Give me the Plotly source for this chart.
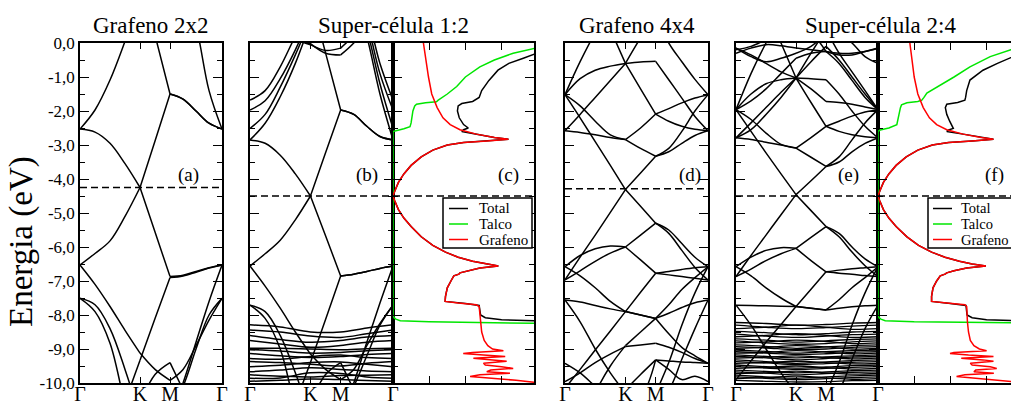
import plotly.graph_objects as go

W, H = 1011, 407

# k-path nodes: Gamma, 1/4, 1/2, 3/4, K, mid K-M, M, three points on M-Gamma, Gamma
K_PATH = [0.0, 0.25, 0.5, 0.75, 1.0, 1.25, 1.5, 1.717, 1.933, 2.15, 2.366]
K_TICKS = [0.0, 1.0, 1.5, 2.366]
K_LABELS = ["Γ", "K", "M", "Γ"]
# coarse grid for the nearly flat talc bands
K_TALC = [0.0, 0.5, 1.0, 1.5, 1.933, 2.366]

E_TICKS = [0, -1, -2, -3, -4, -5, -6, -7, -8, -9, -10]
E_LABELS = ["0,0", "-1,0", "-2,0", "-3,0", "-4,0", "-5,0", "-6,0", "-7,0", "-8,0", "-9,0", "-10,0"]

FERMI = {"a": -4.25, "b": -4.5, "d": -4.29, "e": -4.5}

# ---- (a) grafeno 2x2 ----
BANDS_A = [
    [-2.53, -1.97, -1.09, 0.05, 1.3, 1.6, 1.8, 1.6, 0.5, -1.4, -2.53],
    [-2.53, -2.62, -2.95, -3.55, -4.25, -5.56, -6.87, -6.83, -6.72, -6.61, -6.53],
    [-6.53, -6.19, -5.82, -5.1, -4.25, -2.88, -1.5, -1.65, -2.0, -2.36, -2.53],
    [2.5, 2.5, 2.5, 2.3, 1.96, 0.23, -1.5, -1.65, -2.0, -2.36, -2.53],
    [-6.53, -7.1, -7.75, -8.45, -9.12, -9.6, -9.92, -9.6, -8.9, -8.15, -7.51],
    [-13.0, -12.4, -11.8, -10.55, -9.33, -8.1, -6.9, -6.85, -6.74, -6.62, -6.53],
    [-7.51, -7.9, -8.83, -10.6, -12.0, -12.0, -12.0, -12.0, -12.0, -12.0, -12.0],
    [-7.51, -7.7, -8.4, -9.6, -11.0, -12.0, -12.0, -12.0, -12.0, -12.0, -12.0],
    [-12.0, -12.0, -12.0, -12.0, -12.0, -12.0, -11.0, -10.0, -8.8, -7.6, -6.53],
    [-12.0, -12.0, -12.0, -12.0, -12.0, -12.0, -10.8, -10.1, -9.0, -8.0, -7.51],
    [-12.0, -12.0, -12.0, -12.0, -10.6, -9.75, -9.4, -10.2, -11.0, -12.0, -12.0],
]

# ---- (b) super-celula 1:2 ----
BANDS_B = [
    [-2.85, -2.36, -1.58, -0.6, 0.6, 1.5, 2.0, 1.5, 0.2, -1.5, -2.85],
    [-2.85, -2.95, -3.3, -3.85, -4.5, -5.67, -6.85, -6.8, -6.72, -6.63, -6.56],
    [-6.56, -6.2, -5.8, -5.2, -4.5, -3.23, -1.97, -2.1, -2.45, -2.75, -2.85],
    [2.5, 2.5, 2.5, 2.2, 1.4, -0.29, -1.97, -2.1, -2.45, -2.75, -2.85],
    [-2.51, -2.1, -1.3, -0.35, 0.7, 1.5, 2.0, 1.5, 0.4, -1.2, -2.51],
    [-1.97, -1.7, -1.05, -0.2, 0.8, 1.5, 2.0, 1.5, 0.6, -0.9, -1.97],
    [-1.68, -1.4, -0.7, 0.2, 1.0, 1.5, 2.0, 1.5, 0.8, -0.6, -1.68],
    [0.5, 0.4, 0.3, 0.1, -0.05, -0.22, -0.15, 0.2, 0.5, 0.5, 0.5],
    [0.5, 0.4, 0.3, 0.1, -0.02, -0.3, -0.35, 0.0, 0.5, 0.5, 0.5],
    [-6.56, -7.15, -7.8, -8.5, -9.15, -9.6, -9.9, -9.6, -8.9, -8.25, -7.71],
    [-13.0, -12.4, -11.8, -10.6, -9.4, -8.13, -6.85, -6.8, -6.72, -6.63, -6.56],
    [-7.71, -8.1, -9.0, -10.7, -12.0, -12.0, -12.0, -12.0, -12.0, -12.0, -12.0],
    [-7.71, -7.9, -8.6, -9.7, -11.0, -12.0, -12.0, -12.0, -12.0, -12.0, -12.0],
    [-12.0, -12.0, -12.0, -12.0, -12.0, -12.0, -11.0, -10.0, -8.8, -7.65, -6.56],
    [-12.0, -12.0, -12.0, -12.0, -12.0, -12.0, -10.8, -10.1, -9.2, -8.3, -7.71],
    [-12.0, -12.0, -12.0, -12.0, -10.6, -9.75, -9.4, -10.2, -11.0, -12.0, -12.0],
]

TALC_B = [
    [-8.29, -8.35, -8.5, -8.5, -8.38, -8.29],
    [-8.44, -8.5, -8.62, -8.66, -8.55, -8.44],
    [-8.6, -8.72, -8.8, -8.75, -8.65, -8.6],
    [-8.75, -8.85, -8.95, -8.9, -8.8, -8.75],
    [-8.98, -8.98, -9.0, -9.02, -8.99, -8.98],
    [-9.02, -9.06, -9.12, -9.1, -9.05, -9.02],
    [-9.13, -9.2, -9.25, -9.22, -9.16, -9.13],
    [-9.28, -9.3, -9.22, -9.18, -9.25, -9.28],
    [-9.37, -9.4, -9.45, -9.5, -9.42, -9.37],
    [-9.52, -9.48, -9.4, -9.38, -9.45, -9.52],
    [-9.67, -9.62, -9.55, -9.6, -9.65, -9.67],
    [-9.76, -9.8, -9.82, -9.78, -9.77, -9.76],
    [-9.86, -9.85, -9.7, -9.72, -9.82, -9.86],
    [-9.95, -9.92, -9.88, -9.9, -9.93, -9.95],
]

# ---- (d) grafeno 4x4 ----
BANDS_D = [
    [-1.52, -0.55, 0.3, 1.0, 1.5, 1.5, 1.5, 1.5, 1.5, 1.5, 1.5],
    [-1.52, -1.05, -0.8, -0.68, -0.6, -0.56, -0.54, -1.08, -1.62, -2.16, -2.58],
    [-2.58, -2.1, -1.6, -1.1, -0.6, 0.15, 0.8, 0.0, -0.55, -1.07, -1.52],
    [2.0, 1.8, 1.4, 0.4, -0.6, -1.35, -2.09, -1.93, -1.76, -1.62, -1.52],
    [-2.58, -2.63, -2.7, -2.78, -2.84, -2.5, -2.09, -2.3, -2.45, -2.54, -2.58],
    [-1.52, -1.85, -2.3, -2.7, -2.84, -3.1, -3.33, -3.2, -2.95, -2.72, -2.58],
    [-1.52, -2.2, -2.9, -3.6, -4.31, -4.8, -5.3, -5.6, -6.1, -6.6, -6.97],
    [-6.97, -6.3, -5.65, -4.98, -4.31, -3.82, -3.33, -3.1, -2.6, -2.0, -1.52],
    [-6.58, -6.25, -6.05, -5.97, -6.0, -6.38, -6.77, -6.72, -6.66, -6.61, -6.58],
    [-6.97, -6.7, -6.42, -6.18, -6.0, -5.65, -5.3, -5.5, -5.9, -6.3, -6.58],
    [-10.16, -9.6, -9.03, -8.47, -7.9, -7.33, -6.77, -6.82, -6.87, -6.92, -6.97],
    [-6.58, -6.85, -7.2, -7.6, -7.9, -8.0, -8.1, -7.7, -7.25, -6.9, -6.58],
    [-7.56, -7.62, -7.72, -7.82, -7.9, -8.0, -8.1, -7.95, -7.78, -7.64, -7.56],
    [-7.56, -8.2, -9.0, -9.7, -10.3, -10.5, -10.5, -10.2, -9.3, -8.4, -7.56],
    [-9.42, -9.7, -10.1, -10.5, -10.5, -10.4, -9.32, -9.35, -9.38, -9.4, -9.42],
    [-9.96, -9.7, -9.4, -9.15, -8.93, -8.88, -8.83, -8.95, -9.1, -9.28, -9.42],
    [-12.0, -11.5, -10.3, -9.5, -8.9, -8.5, -8.1, -8.55, -8.95, -9.2, -9.42],
    [-12.0, -12.0, -12.0, -11.0, -10.2, -9.75, -9.32, -9.6, -9.9, -9.8, -9.96],
    [-12.0, -12.0, -12.0, -12.0, -11.5, -10.9, -10.3, -9.4, -8.3, -7.35, -6.58],
]

# ---- (e) super-celula 2:4 ----
BANDS_E = [
    [-1.96, -0.9, 0.0, 0.8, 1.3, 1.3, 1.3, 1.3, 1.3, 1.3, 1.3],
    [-1.96, -1.5, -1.2, -1.08, -1.03, -1.05, -1.08, -1.5, -2.0, -2.45, -2.79],
    [-2.79, -2.35, -1.9, -1.45, -1.03, -0.3, 0.4, -0.3, -0.85, -1.4, -1.96],
    [1.8, 1.5, 1.0, 0.0, -1.03, -1.75, -2.45, -2.3, -2.15, -2.03, -1.96],
    [-2.79, -2.84, -2.92, -3.0, -3.09, -2.78, -2.45, -2.6, -2.7, -2.76, -2.79],
    [-1.96, -2.25, -2.65, -2.98, -3.09, -3.36, -3.63, -3.5, -3.2, -2.95, -2.79],
    [-1.96, -2.6, -3.23, -3.85, -4.46, -4.93, -5.4, -5.7, -6.15, -6.55, -6.87],
    [-6.87, -6.25, -5.65, -5.05, -4.46, -4.05, -3.63, -3.35, -2.85, -2.35, -1.96],
    [-0.15, -0.35, -0.6, -0.85, -1.03, -1.35, -1.72, -1.75, -1.8, -1.88, -1.96],
    [-0.2, -0.1, 0.1, 0.3, 0.5, 0.3, -0.25, -0.3, -0.3, -0.25, -0.15],
    [-0.3, -0.15, -0.05, -0.08, -0.15, -0.2, -0.25, -0.35, -0.35, -0.25, -0.15],
    [-0.15, -0.4, -0.55, -0.45, -0.3, -0.1, 0.3, 0.3, 0.0, -0.4, -0.6],
    [-1.96, -1.7, -1.35, -0.9, -0.45, -0.3, -0.25, -0.6, -1.1, -1.6, -1.96],
    [-2.79, -2.55, -2.1, -1.6, -1.03, -0.55, -0.1, -0.5, -1.0, -1.5, -1.96],
    [-6.58, -6.3, -6.1, -6.02, -6.04, -6.4, -6.73, -6.68, -6.64, -6.61, -6.58],
    [-6.87, -6.65, -6.4, -6.2, -6.04, -5.72, -5.4, -5.6, -6.0, -6.35, -6.58],
    [-9.9, -9.35, -8.8, -8.28, -7.75, -7.24, -6.73, -6.77, -6.8, -6.84, -6.87],
    [-6.58, -6.85, -7.2, -7.5, -7.75, -7.8, -7.85, -7.55, -7.2, -6.9, -6.58],
    [-7.71, -7.72, -7.73, -7.74, -7.75, -7.8, -7.85, -7.8, -7.76, -7.73, -7.71],
    [-7.71, -8.3, -9.0, -9.7, -10.3, -10.5, -10.5, -10.2, -9.3, -8.4, -7.71],
    [-12.0, -12.0, -12.0, -12.0, -11.5, -10.9, -10.3, -9.4, -8.3, -7.35, -6.58],
]

TALC_E = [
    [-8.22, -8.25, -8.3, -8.28, -8.24, -8.22],
    [-8.3, -8.36, -8.4, -8.37, -8.33, -8.3],
    [-8.4, -8.36, -8.3, -8.36, -8.42, -8.4],
    [-8.48, -8.52, -8.58, -8.55, -8.5, -8.48],
    [-8.56, -8.62, -8.66, -8.62, -8.58, -8.56],
    [-8.64, -8.6, -8.55, -8.6, -8.66, -8.64],
    [-8.7, -8.74, -8.8, -8.76, -8.72, -8.7],
    [-8.76, -8.82, -8.86, -8.84, -8.79, -8.76],
    [-8.82, -8.79, -8.74, -8.78, -8.84, -8.82],
    [-8.88, -8.92, -8.98, -8.94, -8.9, -8.88],
    [-8.93, -8.97, -9.02, -9.0, -8.95, -8.93],
    [-8.98, -8.95, -8.9, -8.94, -9.0, -8.98],
    [-9.03, -9.07, -9.12, -9.08, -9.05, -9.03],
    [-9.08, -9.12, -9.16, -9.14, -9.1, -9.08],
    [-9.12, -9.1, -9.05, -9.09, -9.14, -9.12],
    [-9.17, -9.22, -9.26, -9.23, -9.2, -9.17],
    [-9.22, -9.26, -9.32, -9.28, -9.24, -9.22],
    [-9.27, -9.24, -9.2, -9.25, -9.29, -9.27],
    [-9.32, -9.37, -9.42, -9.38, -9.34, -9.32],
    [-9.37, -9.41, -9.46, -9.43, -9.39, -9.37],
    [-9.42, -9.4, -9.36, -9.4, -9.44, -9.42],
    [-9.47, -9.52, -9.56, -9.53, -9.49, -9.47],
    [-9.52, -9.56, -9.6, -9.57, -9.54, -9.52],
    [-9.57, -9.54, -9.5, -9.55, -9.59, -9.57],
    [-9.62, -9.66, -9.7, -9.67, -9.64, -9.62],
    [-9.67, -9.71, -9.76, -9.72, -9.69, -9.67],
    [-9.72, -9.7, -9.65, -9.7, -9.74, -9.72],
    [-9.77, -9.82, -9.86, -9.82, -9.79, -9.77],
    [-9.82, -9.86, -9.9, -9.87, -9.84, -9.82],
    [-9.87, -9.84, -9.8, -9.85, -9.89, -9.87],
    [-9.92, -9.95, -9.97, -9.96, -9.93, -9.92],
]

# ---- densidade de estados (c) ----
C_RED_E = [0.0, -0.5, -1.0, -1.5, -1.9, -2.2, -2.4, -2.55, -2.68, -2.78, -2.83, -2.88, -2.93, -3.0,
           -3.15, -3.35, -3.6, -3.85, -4.1, -4.35, -4.5, -4.65, -4.9, -5.15, -5.4, -5.7, -5.95,
           -6.15, -6.3, -6.42, -6.5, -6.56, -6.62, -6.7, -6.76, -6.8, -6.85, -7.0, -7.2, -7.45,
           -7.6, -7.65, -7.7, -7.75, -8.0, -8.2, -8.5, -8.75, -8.9, -9.0, -9.05, -9.1, -9.13,
           -9.18, -9.22, -9.27, -9.32, -9.36, -9.42, -9.47, -9.52, -9.57, -9.62, -9.67, -9.71,
           -9.76, -9.81, -9.86, -9.92, -9.98]
C_RED_D = [0.84, 0.9, 0.98, 1.07, 1.22, 1.38, 1.58, 1.85, 2.3, 2.8, 3.19, 2.6, 1.95, 1.5,
           1.1, 0.78, 0.5, 0.3, 0.15, 0.05, 0.0, 0.05, 0.15, 0.3, 0.5, 0.78, 1.1,
           1.45, 1.8, 2.2, 2.55, 2.91, 2.4, 2.05, 1.85, 1.82, 1.68, 1.6, 1.5, 1.45,
           1.44, 1.8, 2.3, 2.38, 2.4, 2.42, 2.45, 2.52, 2.62, 2.75, 3.05, 2.2, 1.94,
           2.5, 3.1, 2.22, 2.8, 3.14, 2.5, 2.55, 3.0, 3.32, 2.7, 2.59, 3.23,
           2.4, 2.13, 2.82, 3.4, 3.9]
C_BLK_E = [-0.2, -0.33, -0.45, -0.6, -0.8, -1.1, -1.4, -1.6, -1.72, -1.78, -1.85, -2.0, -2.2,
           -2.4, -2.5, -2.55, -2.6, -2.68, -2.78, -2.83, -2.88, -2.93, -3.0, -3.15, -3.35,
           -3.6, -3.85, -4.1, -4.35, -4.5, -4.65, -4.9, -5.15, -5.4, -5.7, -5.95, -6.15, -6.3,
           -6.42, -6.5, -6.56, -6.62, -6.7, -6.76, -6.8, -6.85, -7.0, -7.2, -7.45, -7.6,
           -7.66, -7.72, -8.0, -8.08, -8.14, -8.19, -8.2]
C_BLK_D = [5.0, 3.9, 3.6, 3.2, 2.9, 2.65, 2.45, 2.38, 2.2, 1.9, 1.8, 1.78, 1.83,
           1.95, 2.08, 1.95, 1.9, 2.3, 2.8, 3.19, 2.6, 1.95, 1.5, 1.1, 0.78,
           0.5, 0.3, 0.15, 0.05, 0.0, 0.05, 0.15, 0.3, 0.5, 0.78, 1.1, 1.45, 1.8,
           2.2, 2.55, 2.91, 2.4, 2.05, 1.85, 1.82, 1.68, 1.6, 1.5, 1.45, 1.44,
           2.0, 2.38, 2.42, 2.55, 3.0, 3.9, 5.0]
C_GRN_E = [-0.1, -0.16, -0.3, -0.5, -0.7, -1.0, -1.28, -1.5, -1.68, -1.73, -1.76, -1.8, -1.85,
           -2.0, -2.35, -2.46, -2.52, -2.56, -2.6, -8.0, -8.08, -8.12, -8.17, -8.2, -8.24, -8.26]
C_GRN_D = [5.0, 3.9, 3.32, 2.8, 2.4, 2.0, 1.76, 1.5, 1.25, 1.2, 0.9, 0.65, 0.6,
           0.55, 0.5, 0.47, 0.3, 0.1, 0.0, 0.0, 0.03, 0.08, 0.2, 1.0, 3.9, 5.0]

# ---- densidade de estados (f) ----
F_RED_E = [0.0, -0.5, -1.0, -1.5, -1.9, -2.2, -2.4, -2.55, -2.68, -2.78, -2.83, -2.88, -2.93, -3.0,
           -3.15, -3.35, -3.6, -3.85, -4.1, -4.35, -4.5, -4.65, -4.9, -5.15, -5.4, -5.7, -5.95,
           -6.15, -6.3, -6.42, -6.5, -6.56, -6.62, -6.7, -6.76, -6.8, -6.85, -7.0, -7.2, -7.45,
           -7.6, -7.65, -7.7, -7.75, -8.0, -8.2, -8.5, -8.75, -8.9, -9.0, -9.05, -9.1, -9.13,
           -9.18, -9.22, -9.27, -9.32, -9.36, -9.42, -9.47, -9.52, -9.57, -9.62, -9.67, -9.71,
           -9.76, -9.81, -9.86, -9.92, -9.98]
F_RED_D = [0.88, 0.93, 1.0, 1.1, 1.25, 1.42, 1.62, 1.9, 2.35, 2.85, 3.19, 2.6, 1.95, 1.5,
           1.1, 0.78, 0.5, 0.3, 0.15, 0.05, 0.0, 0.05, 0.15, 0.3, 0.5, 0.8, 1.12,
           1.48, 1.85, 2.25, 2.6, 2.98, 2.45, 2.1, 1.9, 1.85, 1.72, 1.62, 1.52, 1.48,
           1.48, 1.9, 2.4, 2.45, 2.45, 2.47, 2.5, 2.55, 2.65, 2.8, 3.0, 2.1, 1.99,
           2.5, 3.19, 2.3, 2.9, 3.19, 2.55, 2.6, 3.1, 3.28, 2.7, 2.65, 3.2,
           2.4, 2.17, 2.8, 3.4, 3.9]
F_BLK_E = [-0.2, -0.43, -0.6, -0.8, -1.09, -1.4, -1.6, -1.68, -1.75, -1.8, -1.9, -2.1, -2.3,
           -2.45, -2.51, -2.56, -2.6, -2.68, -2.78, -2.83, -2.88, -2.93, -3.0, -3.15, -3.35,
           -3.6, -3.85, -4.1, -4.35, -4.5, -4.65, -4.9, -5.15, -5.4, -5.7, -5.95, -6.15, -6.3,
           -6.42, -6.5, -6.56, -6.62, -6.7, -6.76, -6.8, -6.85, -7.0, -7.2, -7.45, -7.6,
           -7.66, -7.72, -8.0, -8.08, -8.14, -8.19, -8.2]
F_BLK_D = [5.0, 3.67, 3.3, 2.9, 2.54, 2.45, 2.42, 2.4, 2.2, 1.9, 1.86, 1.9, 1.98,
           2.05, 2.08, 1.95, 1.9, 2.35, 2.85, 3.19, 2.6, 1.95, 1.5, 1.1, 0.78,
           0.5, 0.3, 0.15, 0.05, 0.0, 0.05, 0.15, 0.3, 0.5, 0.8, 1.12, 1.48, 1.85,
           2.25, 2.6, 2.98, 2.45, 2.1, 1.9, 1.85, 1.72, 1.62, 1.52, 1.48, 1.48,
           2.0, 2.43, 2.46, 2.6, 3.0, 3.9, 5.0]
F_GRN_E = [-0.1, -0.2, -0.4, -0.7, -1.0, -1.25, -1.47, -1.6, -1.68, -1.72, -1.76, -1.82, -1.9,
           -2.1, -2.3, -2.4, -2.5, -2.56, -2.6, -8.0, -8.08, -8.12, -8.17, -8.2, -8.23, -8.26]
F_GRN_D = [5.0, 3.67, 3.1, 2.54, 2.1, 1.7, 1.35, 1.27, 1.21, 1.1, 0.8, 0.65, 0.62,
           0.58, 0.54, 0.52, 0.3, 0.06, 0.0, 0.0, 0.03, 0.08, 0.2, 1.0, 3.67, 5.0]

DOS_TICKS = [1, 2, 3]

SERIF = "Liberation Serif, Times New Roman, Times, serif"
LINE_W = 1.5
GREEN = "#00e600"
RED = "#ff0000"

# panel boxes in pixels (left, right); all share the same vertical extent
PANELS = {"a": (80, 222), "b": (250, 393), "c": (393, 534),
          "d": (565, 708), "e": (736, 878), "f": (878, 1011)}
TOP_PX, BOT_PX = 43, 383
AXIS_ID = {"a": "", "b": "2", "c": "3", "d": "4", "e": "5", "f": "6"}

fig = go.Figure()


def band_trace(bands, ax, nodes=K_PATH, split=True, width=LINE_W):
    xs, ys = [], []
    for b in bands:
        if split:
            for i0, i1 in ((0, 4), (4, 6), (6, 10)):
                xs += nodes[i0:i1 + 1] + [None]
                ys += b[i0:i1 + 1] + [None]
        else:
            xs += list(nodes) + [None]
            ys += list(b) + [None]
    fig.add_trace(go.Scatter(x=xs, y=ys, mode="lines", connectgaps=False,
                             line=dict(color="black", width=width, shape="spline", smoothing=1.0),
                             xaxis="x" + ax, yaxis="y" + ax, hoverinfo="skip", showlegend=False))


def dos_trace(e, d, color, ax):
    fig.add_trace(go.Scatter(x=d, y=e, mode="lines", line=dict(color=color, width=LINE_W),
                             xaxis="x" + ax, yaxis="y" + ax, hoverinfo="skip", showlegend=False))


def fermi_trace(x0, x1, ef, ax):
    fig.add_trace(go.Scatter(x=[x0, x1], y=[ef, ef], mode="lines",
                             line=dict(color="black", width=1.5, dash="7px,4px"),
                             xaxis="x" + ax, yaxis="y" + ax, hoverinfo="skip", showlegend=False))


# band structures
band_trace(BANDS_A, AXIS_ID["a"])
band_trace(TALC_B, AXIS_ID["b"], nodes=K_TALC, split=False)
band_trace(BANDS_B, AXIS_ID["b"])
band_trace(BANDS_D, AXIS_ID["d"])
band_trace(TALC_E, AXIS_ID["e"], nodes=K_TALC, split=False, width=1.3)
band_trace(BANDS_E, AXIS_ID["e"])

# densities of states
dos_trace(C_BLK_E, C_BLK_D, "black", AXIS_ID["c"])
dos_trace(C_GRN_E, C_GRN_D, GREEN, AXIS_ID["c"])
dos_trace(C_RED_E, C_RED_D, RED, AXIS_ID["c"])
dos_trace(F_BLK_E, F_BLK_D, "black", AXIS_ID["f"])
dos_trace(F_GRN_E, F_GRN_D, GREEN, AXIS_ID["f"])
dos_trace(F_RED_E, F_RED_D, RED, AXIS_ID["f"])

DOS_MAX_C = (534 - 393) / 36.2
DOS_MAX_F = (1011 - 878) / 36.2

# Fermi levels
fermi_trace(0, 2.366, FERMI["a"], AXIS_ID["a"])
fermi_trace(0, 2.366, FERMI["b"], AXIS_ID["b"])
fermi_trace(0, DOS_MAX_C, FERMI["b"], AXIS_ID["c"])
fermi_trace(0, 2.366, FERMI["d"], AXIS_ID["d"])
fermi_trace(0, 2.366, FERMI["e"], AXIS_ID["e"])
fermi_trace(0, DOS_MAX_F, FERMI["e"], AXIS_ID["f"])

y_dom = [(H - BOT_PX) / H, (H - TOP_PX) / H]
tick_font = dict(family=SERIF, size=17, color="black")
layout = dict(width=W, height=H, margin=dict(l=0, r=0, t=0, b=0, autoexpand=False),
              paper_bgcolor="white", plot_bgcolor="white", showlegend=False)

for name, (l, r) in PANELS.items():
    sid = AXIS_ID[name]
    is_dos = name in ("c", "f")
    xa = dict(domain=[l / W, r / W], anchor="y" + sid, showline=True, linecolor="black",
              linewidth=1.5, mirror="allticks", ticks="inside", tickcolor="black",
              tickwidth=1.2, showgrid=False, zeroline=False, automargin=False)
    if is_dos:
        xa.update(range=[0, DOS_MAX_C if name == "c" else DOS_MAX_F], tickvals=DOS_TICKS,
                  ticklen=7, showticklabels=False)
    else:
        xa.update(range=[0, 2.366], tickvals=K_TICKS, ticktext=K_LABELS, ticklen=6,
                  ticklabelstandoff=-8, tickfont=dict(family=SERIF, size=20, color="black"))
    ya = dict(domain=y_dom, anchor="x" + sid, range=[-10, 0], showline=True, linecolor="black",
              linewidth=1.5, mirror=("allticks" if name != "f" else False), ticks="inside",
              tickcolor="black", tickwidth=1.2, ticklen=9, tickvals=E_TICKS, ticktext=E_LABELS,
              showticklabels=(name == "a"), tickfont=tick_font, showgrid=False, zeroline=False,
              automargin=False,
              minor=dict(ticks="inside", ticklen=5, tickwidth=1.2, tickcolor="black",
                         tickvals=[-0.5 - i for i in range(10)]))
    layout["xaxis" + sid] = xa
    layout["yaxis" + sid] = ya

fig.update_layout(**layout)

# titles, axis title and panel letters
titles = [("Grafeno 2x2", 151), ("Super-célula 1:2", 393), ("Grafeno 4x4", 637),
          ("Super-célula 2:4", 880)]
for txt, xc in titles:
    fig.add_annotation(text=txt, x=xc / W, y=(H - 25) / H, xref="paper", yref="paper",
                       xanchor="center", yanchor="middle", showarrow=False,
                       font=dict(family=SERIF, size=23, color="black"))
fig.add_annotation(text="Energia (eV)", x=22 / W, y=(H - 242) / H, xref="paper", yref="paper",
                   textangle=-90, xanchor="center", yanchor="middle", showarrow=False,
                   font=dict(family=SERIF, size=33, color="black"))

letters = [("(a)", 1.8, AXIS_ID["a"]), ("(b)", 1.94, AXIS_ID["b"]), ("(c)", 3.18, AXIS_ID["c"]),
           ("(d)", 2.06, AXIS_ID["d"]), ("(e)", 1.88, AXIS_ID["e"]), ("(f)", 3.23, AXIS_ID["f"])]
for txt, xv, sid in letters:
    fig.add_annotation(text=txt, x=xv, y=-3.88, xref="x" + sid, yref="y" + sid,
                       xanchor="center", yanchor="middle", showarrow=False,
                       font=dict(family=SERIF, size=19, color="black"))

# legend boxes drawn inside the DOS panels
LEGEND_ITEMS = [("Total", "black"), ("Talco", GREEN), ("Grafeno", RED)]
for box_l, box_r, line_l, line_r, text_l, fsize in ((443, 532, 449, 468, 477, 15),
                                                    (928, 1020, 933, 952, 959, 14.5)):
    fig.add_shape(type="rect", xref="paper", yref="paper", x0=box_l / W, x1=box_r / W,
                  y0=(H - 248) / H, y1=(H - 198) / H, line=dict(color="black", width=1.5),
                  fillcolor="white", layer="above")
    for i, (lab, col) in enumerate(LEGEND_ITEMS):
        yc = 208.5 + 15.5 * i
        fig.add_shape(type="line", xref="paper", yref="paper", x0=line_l / W, x1=line_r / W,
                      y0=(H - yc) / H, y1=(H - yc) / H, line=dict(color=col, width=1.5),
                      layer="above")
        fig.add_annotation(text=lab, x=text_l / W, y=(H - yc) / H, xref="paper", yref="paper",
                           xanchor="left", yanchor="middle", showarrow=False,
                           font=dict(family=SERIF, size=fsize, color="black"))

fig.write_html("out.html")
